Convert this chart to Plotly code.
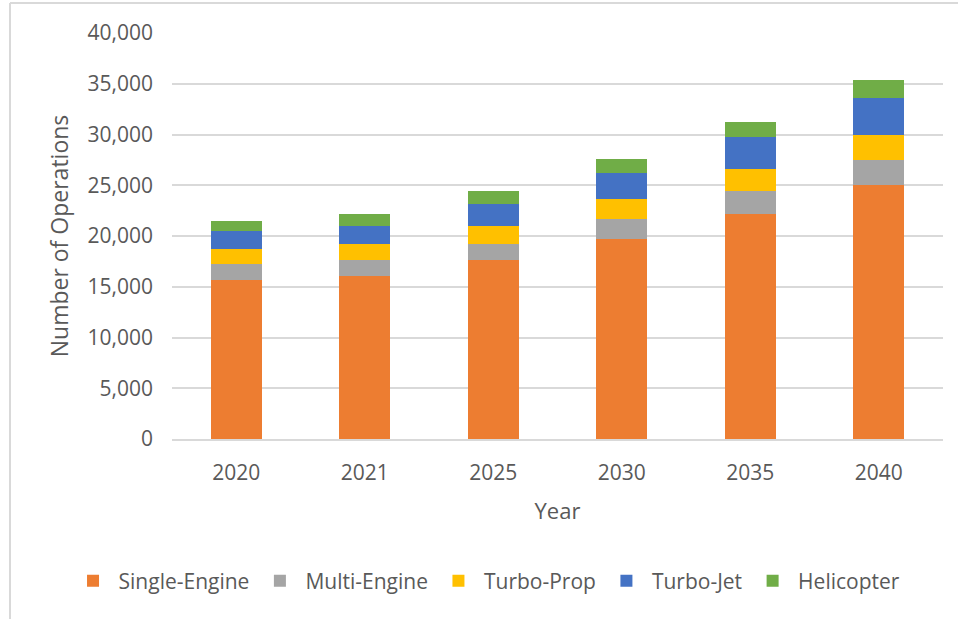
import plotly.graph_objs as go

# Operations forecast by aircraft type
years = ["2020", "2021", "2025", "2030", "2035", "2040"]
single_engine = [15700, 16100, 17600, 19730, 22170, 25050]
multi_engine = [1500, 1510, 1640, 1910, 2260, 2400]
turbo_prop = [1520, 1640, 1780, 2040, 2130, 2500]
turbo_jet = [1800, 1780, 2170, 2530, 3150, 3680]
helicopter = [960, 1150, 1210, 1380, 1520, 1770]

series = [
    ("Single-Engine", single_engine, "#ED7D31"),
    ("Multi-Engine", multi_engine, "#A5A5A5"),
    ("Turbo-Prop", turbo_prop, "#FFC000"),
    ("Turbo-Jet", turbo_jet, "#4472C4"),
    ("Helicopter", helicopter, "#70AD47"),
]

FONT = "Open Sans, Lato, sans-serif"
TEXT = "#595959"

traces = [
    go.Bar(x=years, y=vals, name=name, marker=dict(color=color, line=dict(width=0)))
    for name, vals, color in series
]

fig = go.Figure(traces)

fig.update_layout(
    width=958,
    height=619,
    barmode="stack",
    bargap=0.6,
    plot_bgcolor="white",
    paper_bgcolor="white",
    font=dict(family=FONT, size=21, color=TEXT),
    margin=dict(l=172, r=15, t=33, b=180, autoexpand=False),
    showlegend=True,
    # anchored left of the plot area so the single row may use the full width
    legend=dict(
        orientation="h",
        xanchor="left",
        x=-0.1355,
        yanchor="middle",
        y=-0.35,
        font=dict(size=21, color=TEXT),
        itemwidth=41,
        traceorder="normal",
    ),
    # outer chart border (top and left edges visible in the reference)
    shapes=[
        dict(type="line", xref="paper", yref="paper",
             x0=-0.2101, x1=1.03, y0=1.0739, y1=1.0739,
             line=dict(color="#D9D9D9", width=2)),
        dict(type="line", xref="paper", yref="paper",
             x0=-0.2101, x1=-0.2101, y0=1.0739, y1=-0.45,
             line=dict(color="#D9D9D9", width=2)),
    ],
)

fig.update_xaxes(
    type="category",
    showgrid=False,
    showline=True,
    linecolor="#D9D9D9",
    linewidth=2,
    ticks="",
    ticklabelstandoff=14,
    title=dict(text="Year", standoff=18, font=dict(size=22, color=TEXT)),
)

fig.update_yaxes(
    range=[0, 40000],
    dtick=5000,
    tickformat=",",
    showgrid=True,
    gridcolor="#D9D9D9",
    gridwidth=2,
    zeroline=False,
    showline=False,
    ticks="",
    ticklabelstandoff=18,
    title=dict(text="Number of Operations", standoff=12, font=dict(size=23, color=TEXT)),
)

# drop the default body margin so the figure sits at the page origin
fig.write_html(
    "out.html",
    config={"displayModeBar": False},
    post_script="document.body.style.margin = '0';",
)
